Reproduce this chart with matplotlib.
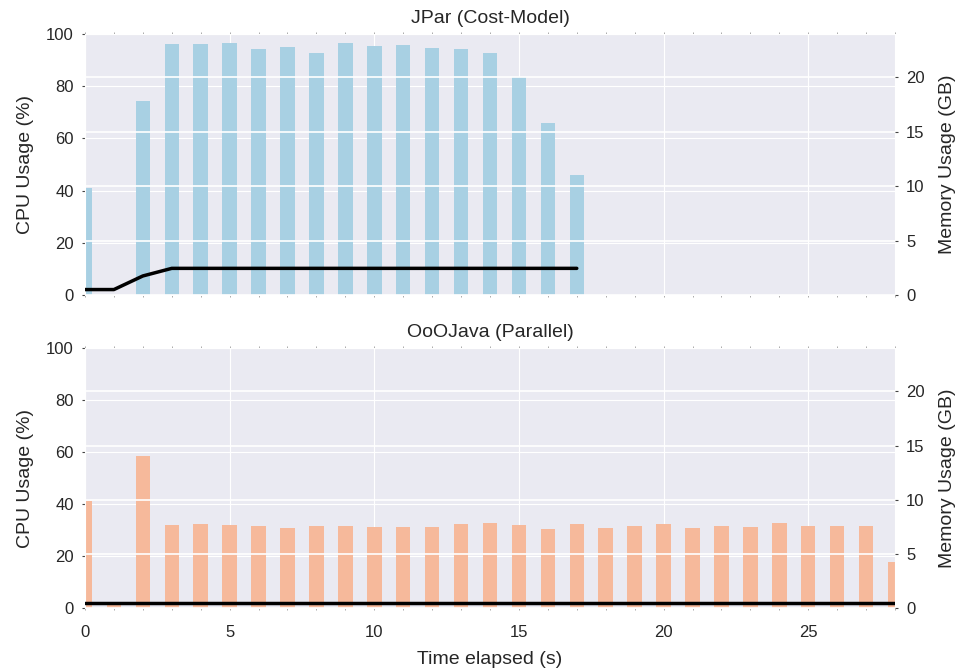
import numpy as np
import matplotlib
matplotlib.use("Agg")
import matplotlib.pyplot as plt
import seaborn as sns

sns.set_style("darkgrid")
plt.rcParams['font.family'] = ['Liberation Sans', 'DejaVu Sans']

# per-second samples
jpar_cpu = [41, 0, 74.5, 96.2, 96.2, 96.6, 94.3, 95.0, 92.7, 96.6, 95.4, 95.8,
            94.6, 94.3, 92.7, 83.5, 66.0, 46.0]
jpar_mem = [0.5, 0.5, 1.75, 2.45, 2.45, 2.45, 2.45, 2.45, 2.45, 2.45, 2.45, 2.45,
            2.45, 2.45, 2.45, 2.45, 2.45, 2.45]

ooo_cpu = [41, 2, 58.3, 32.0, 32.4, 32.0, 31.6, 30.9, 31.6, 31.6, 31.3, 31.3,
           31.3, 32.4, 32.8, 32.0, 30.5, 32.4, 30.9, 31.6, 32.4, 30.9, 31.6,
           31.3, 32.8, 31.6, 31.6, 31.6, 17.8]
ooo_mem = [0.43] * len(ooo_cpu)

runs = [
    ("JPar (Cost-Model)", jpar_cpu, jpar_mem, "#a8d0e3"),
    ("OoOJava (Parallel)", ooo_cpu, ooo_mem, "#f6b99b"),
]

LABEL = 14
TICK = 12

fig = plt.figure(figsize=(9.59, 6.70), dpi=100)
boxes = [[0.0886, 0.5597, 0.8447, 0.3896], [0.0886, 0.0925, 0.8447, 0.3881]]

for i, (title, cpu, mem, color) in enumerate(runs):
    ax = fig.add_axes(boxes[i])
    t = np.arange(len(cpu))
    ax.bar(t, cpu, width=0.5, color=color, linewidth=0)
    ax.set_xlim(0, 28)
    ax.set_ylim(0, 100)
    ax.set_xticks(range(0, 29, 5))
    ax.set_xticks(range(29), minor=True)
    ax.set_yticks(range(0, 101, 20))
    ax.set_ylabel("CPU Usage (%)", fontsize=LABEL, labelpad=9)
    ax.set_title(title, fontsize=LABEL, pad=8)
    ax.tick_params(axis='both', which='major', length=2, width=0.8,
                   color='#444444', labelsize=TICK, pad=6)
    ax.tick_params(axis='x', which='both', top=True, bottom=True, length=1.5,
                   width=0.6, color='#999999', pad=11)
    if i == 0:
        ax.tick_params(axis='x', labelbottom=False)
    else:
        ax.set_xlabel("Time elapsed (s)", fontsize=LABEL, labelpad=8)

    ax2 = ax.twinx()
    ax2.plot(np.arange(len(mem)), mem, color='black', linewidth=2.5)
    ax2.set_ylim(0, 24)
    ax2.set_yticks(range(0, 21, 5))
    ax2.grid(False, axis='x')
    ax2.yaxis.grid(True, color='white', linewidth=1.2)
    ax2.set_ylabel("Memory Usage (GB)", fontsize=LABEL, labelpad=10)
    ax2.tick_params(axis='y', length=2, width=0.8, color='#444444',
                    labelsize=TICK, pad=6)
    for s in ax2.spines.values():
        s.set_visible(False)

fig.savefig("out.png", dpi=100)
